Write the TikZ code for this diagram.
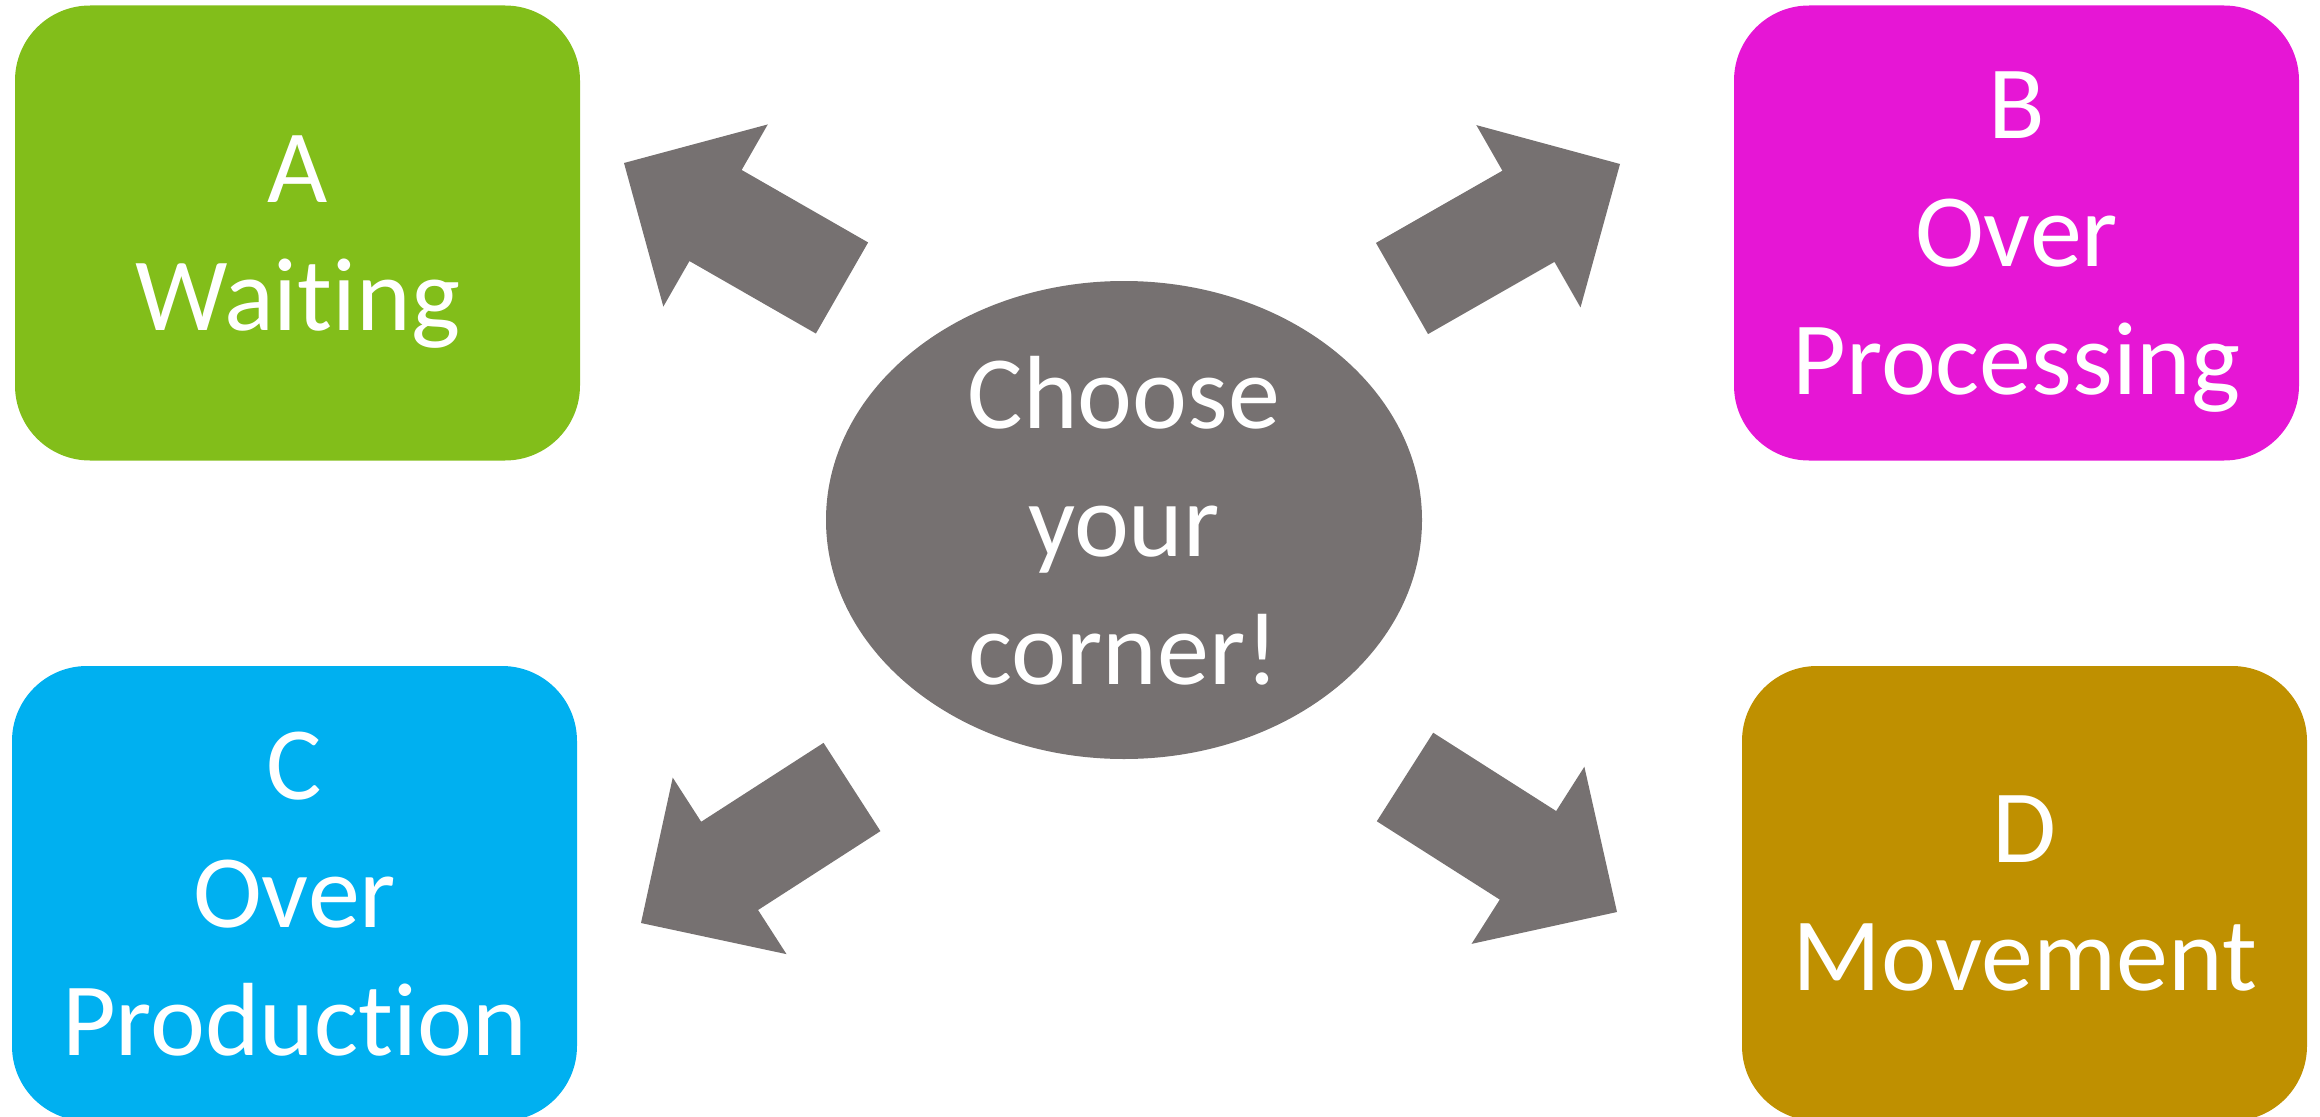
\documentclass[tikz,border=0pt]{standalone}
\usepackage{fontspec}
\setmainfont{Carlito}[Ligatures=NoCommon]
\usetikzlibrary{calc,positioning,shapes.geometric}
\definecolor{WaitGreen}{HTML}{82BE1A}
\definecolor{ProcMagenta}{HTML}{E616D5}
\definecolor{ProdBlue}{HTML}{00B0F0}
\definecolor{MoveGold}{HTML}{BF9000}
\definecolor{CornerGray}{HTML}{767171}

\begin{document}
\begin{tikzpicture}[x=1cm,y=1cm,
    every node/.style={font=\fontsize{29.6pt}{36.4pt}\selectfont, text=white, align=center},
    corner/.style={rounded corners=0.75cm, minimum width=5.65cm, minimum height=4.55cm, inner sep=0pt, text depth=0pt}]
    \useasboundingbox (0,0) rectangle (23.2,-11.17);

    \node[corner, fill=WaitGreen] (A) at (2.975,-2.33) {A\\Waiting};
    \node[corner, fill=ProcMagenta] (B) at (20.165,-2.33) {B\\Over\\Processing};
    \node[corner, fill=ProdBlue] (C) at (2.945,-8.935) {C\\Over\\Production};
    \node[corner, fill=MoveGold] (D) at (20.245,-8.935) {D\\Movement};

    \node[ellipse, fill=CornerGray, minimum width=5.96cm, minimum height=4.78cm, inner sep=0pt, text depth=0pt] (hub) at (11.24,-5.20) {Choose\\your\\corner!};

    \coordinate (tA) at (8.42,-2.88);  \coordinate (hA) at (6.24,-1.63);
    \coordinate (tB) at (14.02,-2.885); \coordinate (hB) at (16.20,-1.64);
    \coordinate (tC) at (8.52,-7.87);  \coordinate (hC) at (6.41,-9.23);
    \coordinate (tD) at (14.05,-7.77); \coordinate (hD) at (16.17,-9.12);

    \foreach \tail/\head in {tA/hA,tB/hB,tC/hC,tD/hD} {
        \fill[CornerGray] ($(\tail)!0.525cm!90:(\head)$)
            -- ($(\tail)!0.58!(\head)!0.525cm!90:(\head)$)
            -- ($(\tail)!0.58!(\head)!1.05cm!90:(\head)$)
            -- (\head)
            -- ($(\tail)!0.58!(\head)!1.05cm!-90:(\head)$)
            -- ($(\tail)!0.58!(\head)!0.525cm!-90:(\head)$)
            -- ($(\tail)!0.525cm!-90:(\head)$) -- cycle;
    }
\end{tikzpicture}
\end{document}
